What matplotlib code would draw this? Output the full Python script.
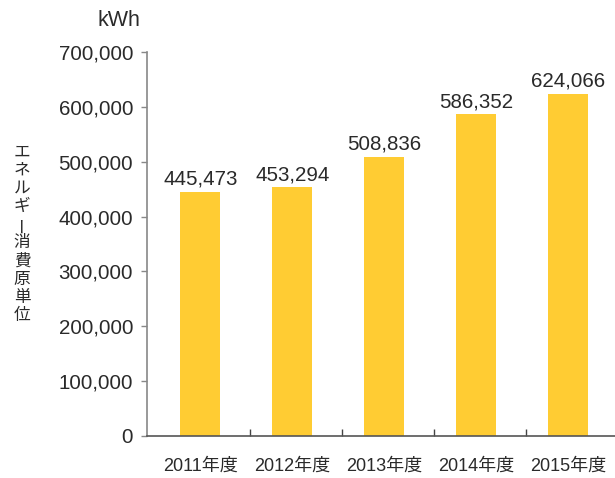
import matplotlib
matplotlib.use("Agg")
import matplotlib.pyplot as plt
import numpy as np

plt.rcParams['font.family'] = ['Liberation Sans', 'Noto Sans CJK JP', 'DejaVu Sans']

years = ["2011年度", "2012年度", "2013年度", "2014年度", "2015年度"]
values = [445473, 453294, 508836, 586352, 624066]
yticks = [0, 100000, 200000, 300000, 400000, 500000, 600000, 700000]
unit = "kWh"
ylabel = "エネルギー消費原単位"

bar_color = "#FFCC33"
text_color = "#2a2a2a"

fig = plt.figure(figsize=(6.15, 4.78), dpi=100)
ax = fig.add_axes([0.239, 0.088, 0.761, 0.803])

x = np.arange(len(years))
ax.bar(x, values, width=0.435, color=bar_color, zorder=2)

for xi, v in zip(x, values):
    ax.text(xi, v + 6000, f"{v:,}", ha="center", va="bottom",
            fontsize=14.8, color=text_color)

ax.set_ylim(0, 700000)
ax.set_xlim(-0.58, 4.51)
ax.set_yticks(yticks)
ax.set_yticklabels([f"{t:,}" for t in yticks], fontsize=14.8, color=text_color)
ax.tick_params(axis="y", direction="out", length=4, width=1, color="#888888", pad=6)

# category labels drawn without tick marks, boundary ticks pointing up
ax.set_xticks(x)
ax.set_xticklabels(years, fontsize=13, color=text_color)
ax.tick_params(axis="x", length=0, pad=16)
ax.set_xticks(x[:-1] + 0.54, minor=True)
ax.tick_params(axis="x", which="minor", direction="in", length=5, width=1, color="#444444")

for s in ["top", "right"]:
    ax.spines[s].set_visible(False)
ax.spines["left"].set_color("#888888")
ax.spines["left"].set_linewidth(1.2)
ax.spines["bottom"].set_color("#555555")
ax.spines["bottom"].set_linewidth(1.2)

fig.text(119 / 615, 1 - 21 / 478, unit, ha="center", va="center",
         fontsize=15.5, color=text_color)

# vertical axis title, one character per line
top_px, step_px = 152, 18.2
for i, ch in enumerate(ylabel):
    rot = 90 if ch == "ー" else 0
    fig.text(22 / 615, 1 - (top_px + i * step_px) / 478, ch, ha="center",
             va="center", fontsize=12, color=text_color, rotation=rot,
             family=["Noto Sans CJK JP"])

fig.savefig("out.png", dpi=100)
